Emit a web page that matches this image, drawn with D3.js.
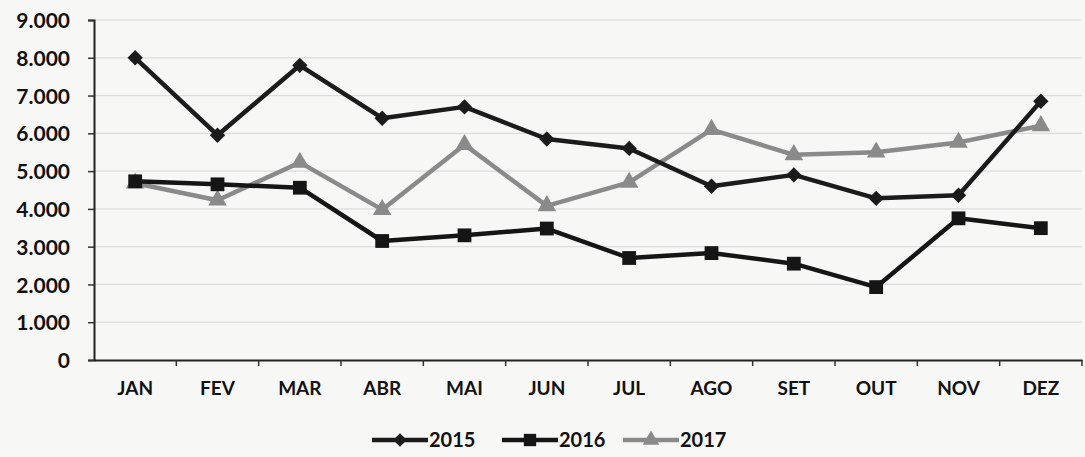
<!DOCTYPE html>
<html>
<head>
<meta charset="utf-8">
<script src="https://cdn.jsdelivr.net/npm/d3@7"></script>
<style>
  body { margin: 0; background: #f7f7f6; }
  svg text { font-family: Lato, "Open Sans", sans-serif; font-weight: bold; fill: #111; }
</style>
</head>
<body>
<svg id="chart" width="1085" height="457"></svg>
<script>
// monthly values
var months = ["JAN", "FEV", "MAR", "ABR", "MAI", "JUN", "JUL", "AGO", "SET", "OUT", "NOV", "DEZ"]
var v2015 = [8000, 5950, 7800, 6400, 6700, 5850, 5600, 4600, 4900, 4280, 4360, 6850]
var v2016 = [4730, 4650, 4560, 3150, 3300, 3480, 2700, 2830, 2550, 1930, 3750, 3490]
var v2017 = [4680, 4230, 5230, 3980, 5700, 4080, 4700, 6100, 5430, 5500, 5760, 6200]
var yTicks = [0, 1000, 2000, 3000, 4000, 5000, 6000, 7000, 8000, 9000]

var series = [
    { name: "2015", values: v2015, color: "#1b1b1b", symbol: d3.symbolDiamond2, size: 150 },
    { name: "2016", values: v2016, color: "#151515", symbol: d3.symbolSquare, size: 190 },
    { name: "2017", values: v2017, color: "#8a8a8a", symbol: d3.symbolTriangle, size: 150 }
]

var margin = { top: 20, left: 94, bottom: 97, right: 3 }
var svg = d3.select("#chart")
var width = 1085 - margin.left - margin.right
var height = 457 - margin.top - margin.bottom

var x = d3.scaleBand().domain(months).range([0, width])
var y = d3.scaleLinear().domain([0, 9000]).range([height, 0])

var g = svg.append("g").attr("transform", `translate(${margin.left},${margin.top})`)

// faint gridlines
g.append("g")
    .selectAll("line")
    .data(yTicks.slice(1))
    .join("line")
    .attr("x1", 0).attr("x2", width)
    .attr("y1", d => y(d)).attr("y2", d => y(d))
    .style("stroke", "#dcdcdc")
    .style("stroke-width", 1.2)

var fmt = d => d3.format(",")(d).replace(/,/g, ".")

var yAxis = g.append("g")
    .call(d3.axisLeft(y).tickValues(yTicks).tickFormat(fmt).tickSize(6).tickPadding(18))
yAxis.select(".domain").style("stroke", "#222").style("stroke-width", 2)
yAxis.selectAll(".tick line").style("stroke", "#333").style("stroke-width", 1.5)
yAxis.selectAll("text").style("font-size", "21px").attr("dy", "0.36em")

var xAxis = g.append("g")
    .attr("transform", `translate(0,${height})`)
    .call(d3.axisBottom(x).tickSize(0).tickPadding(22))
xAxis.select(".domain").style("stroke", "#222").style("stroke-width", 2)
xAxis.selectAll("text").style("font-size", "19px")

// tick marks between categories
g.append("g")
    .selectAll("line")
    .data(months)
    .join("line")
    .attr("x1", d => x(d) + x.bandwidth()).attr("x2", d => x(d) + x.bandwidth())
    .attr("y1", height).attr("y2", height + 6)
    .style("stroke", "#333")
    .style("stroke-width", 1.5)

var line = d3.line()
    .x((d, i) => x(months[i]) + x.bandwidth() / 2)
    .y(d => y(d))

series.slice().reverse().forEach(function (s) {
    g.append("path")
        .datum(s.values)
        .attr("d", line)
        .style("fill", "none")
        .style("stroke", s.color)
        .style("stroke-width", 4.5)
        .style("stroke-linejoin", "round")

    g.append("g")
        .selectAll("path")
        .data(s.values)
        .join("path")
        .attr("d", d3.symbol().type(s.symbol).size(s.size))
        .attr("transform", (d, i) => `translate(${x(months[i]) + x.bandwidth() / 2},${y(d)})`)
        .style("fill", s.color)
})

// legend
var legendX = [372, 502, 623]
var legend = svg.append("g").attr("transform", "translate(0,440)")
series.forEach(function (s, i) {
    var lg = legend.append("g").attr("transform", `translate(${legendX[i]},0)`)
    lg.append("line")
        .attr("x1", 0).attr("x2", 56)
        .style("stroke", s.color)
        .style("stroke-width", 4.5)
    lg.append("path")
        .attr("d", d3.symbol().type(s.symbol).size(s.size * 0.8))
        .attr("transform", "translate(28,0)")
        .style("fill", s.color)
    lg.append("text")
        .attr("x", 57)
        .attr("dy", "0.36em")
        .style("font-size", "20px")
        .text(s.name)
})
</script>
</body>
</html>
